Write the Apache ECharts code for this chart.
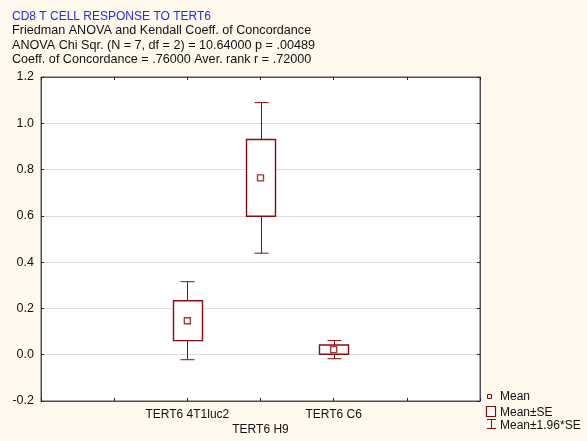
<!DOCTYPE html>
<html>
<head>
<meta charset="utf-8">
<script src="https://cdn.jsdelivr.net/npm/echarts@6/dist/echarts.min.js"></script>
<style>
  html, body { margin: 0; padding: 0; background: #fff9ee; }
  #chart { width: 587px; height: 441px; }
</style>
</head>
<body>
<div id="chart"></div>
<script>
// Groups and their summary statistics (mean and standard error)
const categories = ['TERT6 4T1luc2', 'TERT6 H9', 'TERT6 C6'];
const means = [0.147, 0.764, 0.022];
const stdErrors = [0.086, 0.166, 0.020];

const titleLine = 'CD8 T CELL RESPONSE TO TERT6';
const statLines = [
  'Friedman ANOVA and Kendall Coeff. of Concordance',
  'ANOVA Chi Sqr. (N = 7, df = 2) = 10.64000 p = .00489',
  'Coeff. of Concordance = .76000 Aver. rank r = .72000'
];

const FONT = 'Arial, "Liberation Sans", sans-serif';
const RED = '#8b0a0a';
const AXIS = '#505050';

// groups sit on slots 2..4 of a 0..6 axis
const slotOf = i => i + 2;
const labelOf = v => {
  const i = v - 2;
  if (i < 0 || i >= categories.length) return '';
  return (i % 2 === 1 ? '\n' : '') + categories[i];
};

const boxData = categories.map((c, i) => [slotOf(i), means[i] - stdErrors[i], means[i] + stdErrors[i]]);
const whiskerData = categories.map((c, i) => [slotOf(i), means[i] - 1.96 * stdErrors[i], means[i] + 1.96 * stdErrors[i]]);
const meanData = categories.map((c, i) => [slotOf(i), means[i]]);

const chart = echarts.init(document.getElementById('chart'));

const frameAxis = {
  axisLine: { show: true, onZero: false, lineStyle: { color: AXIS } },
  axisTick: { show: true, inside: true, length: 3, lineStyle: { color: '#222' } },
  splitLine: { show: false }
};

chart.setOption({
  backgroundColor: '#fff9ee',
  animation: false,
  textStyle: { fontFamily: FONT },
  title: {
    left: 12, top: 9, itemGap: 0, padding: 0,
    text: titleLine,
    textStyle: { fontFamily: FONT, fontSize: 12, fontWeight: 'normal', color: '#1f2fe8', lineHeight: 14.5 },
    subtext: statLines.join('\n'),
    subtextStyle: { fontFamily: FONT, fontSize: 12.6, color: '#111', lineHeight: 14.5 }
  },
  grid: { left: 41, right: 107, top: 77, bottom: 40, show: true, backgroundColor: '#ffffff', borderColor: AXIS, borderWidth: 1 },
  xAxis: [
    Object.assign({
      type: 'value', min: 0, max: 6, interval: 1, position: 'bottom',
      axisLabel: { margin: 6, fontSize: 12, color: '#111', lineHeight: 15, fontFamily: FONT, formatter: labelOf, showMinLabel: true, showMaxLabel: true }
    }, frameAxis),
    Object.assign({
      type: 'value', min: 0, max: 6, interval: 1, position: 'top',
      axisLabel: { show: false }
    }, frameAxis)
  ],
  yAxis: [
    {
      type: 'value', min: -0.2, max: 1.2, interval: 0.2, position: 'left',
      axisLine: { show: true, onZero: false, lineStyle: { color: AXIS } },
      axisTick: { show: true, inside: true, length: 3, lineStyle: { color: '#222' } },
      splitLine: { show: true, lineStyle: { color: '#dcdcdc', width: 1 } },
      axisLabel: { margin: 7, fontSize: 12.5, color: '#111', fontFamily: FONT, formatter: v => v.toFixed(1) }
    },
    Object.assign({
      type: 'value', min: -0.2, max: 1.2, interval: 0.2, position: 'right',
      axisLabel: { show: false }
    }, frameAxis)
  ],
  series: [
    {
      name: 'Mean±1.96*SE',
      type: 'custom',
      data: whiskerData,
      z: 2,
      renderItem: function (params, api) {
        const x = api.value(0);
        const lo = api.coord([x, api.value(1)]);
        const hi = api.coord([x, api.value(2)]);
        const cx = Math.round(hi[0]) + 0.5;
        const cap = 7;
        const style = { stroke: RED, lineWidth: 1, fill: null };
        return {
          type: 'group',
          children: [
            { type: 'line', shape: { x1: cx, y1: hi[1], x2: cx, y2: lo[1] }, style: style },
            { type: 'line', shape: { x1: cx - cap, y1: hi[1], x2: cx + cap, y2: hi[1] }, style: style },
            { type: 'line', shape: { x1: cx - cap, y1: lo[1], x2: cx + cap, y2: lo[1] }, style: style }
          ]
        };
      }
    },
    {
      name: 'Mean±SE',
      type: 'custom',
      data: boxData,
      z: 3,
      renderItem: function (params, api) {
        const x = api.value(0);
        const lo = api.coord([x, api.value(1)]);
        const hi = api.coord([x, api.value(2)]);
        const w = 29;
        return {
          type: 'rect',
          shape: { x: Math.round(hi[0] - w / 2) + 0.5, y: hi[1], width: w, height: lo[1] - hi[1] },
          style: { fill: '#ffffff', stroke: RED, lineWidth: 1.4 }
        };
      }
    },
    {
      name: 'Mean',
      type: 'scatter',
      data: meanData,
      z: 4,
      symbol: 'rect',
      symbolSize: 6,
      itemStyle: { color: '#ffffff', borderColor: RED, borderWidth: 1.4 }
    }
  ],
  graphic: [
    // legend key: mean marker
    { type: 'rect', shape: { x: 487.5, y: 394.5, width: 4, height: 4 }, style: { fill: '#fff', stroke: RED, lineWidth: 1 } },
    { type: 'text', left: 500, top: 391, style: { text: 'Mean', font: '12px ' + FONT, fill: '#111' } },
    // legend key: SE box
    { type: 'rect', shape: { x: 486.5, y: 406.5, width: 9, height: 10 }, style: { fill: '#fff', stroke: RED, lineWidth: 1.2 } },
    { type: 'text', left: 500, top: 407, style: { text: 'Mean±SE', font: '12px ' + FONT, fill: '#111' } },
    // legend key: whisker
    { type: 'line', shape: { x1: 491.5, y1: 419, x2: 491.5, y2: 429 }, style: { stroke: RED, lineWidth: 1 } },
    { type: 'line', shape: { x1: 487, y1: 419.5, x2: 496, y2: 419.5 }, style: { stroke: RED, lineWidth: 1 } },
    { type: 'line', shape: { x1: 487, y1: 428.5, x2: 496, y2: 428.5 }, style: { stroke: RED, lineWidth: 1 } },
    { type: 'text', left: 500, top: 420, style: { text: 'Mean±1.96*SE', font: '12px ' + FONT, fill: '#111' } }
  ]
});
</script>
</body>
</html>
